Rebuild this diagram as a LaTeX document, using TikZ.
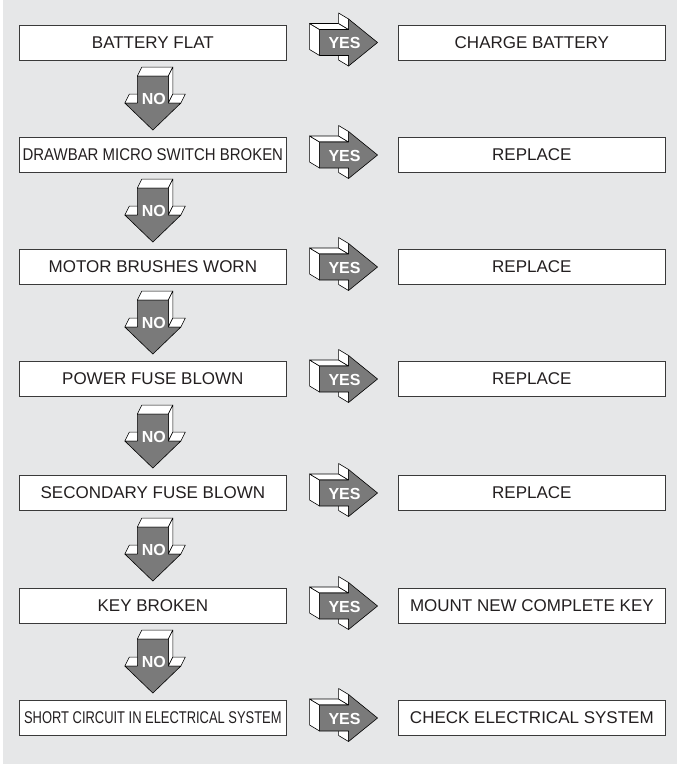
\documentclass[tikz,border=0pt]{standalone}
\usepackage{fontspec}
\setmainfont{Liberation Sans}
\usepackage{graphicx}
\definecolor{bggrey}{HTML}{E6E7E8}
\definecolor{arrowgrey}{HTML}{7A7A7A}
\definecolor{boxline}{HTML}{3A3A3A}
\definecolor{txt}{HTML}{231F20}
\tikzset{
  qbox/.style={draw=boxline, line width=0.9pt, fill=white, minimum width=267.7pt, minimum height=35pt, inner sep=0pt, text=txt, font=\fontsize{17}{19}\selectfont},
  sideface/.style={fill=white, draw=black, line width=0.6pt, line join=round},
  frontface/.style={fill=arrowgrey, draw=black, line width=0.6pt, line join=round},
  arrlabel/.style={text=white, font=\fontsize{16}{18}\selectfont\bfseries, inner sep=0pt}
}
\newcommand{\yesarrow}[1]{%
  \begin{scope}[shift={(#1)}]
    \filldraw[sideface] (-58,-13) -- (-58,13) -- (-68,7) -- (-68,-19) -- cycle;
    \filldraw[sideface] (-58,-13) -- (-29,-13) -- (-39,-19) -- (-68,-19) -- cycle;
    \filldraw[sideface] (-29,-13) -- (-29,-23.5) -- (-39,-29.5) -- (-39,-19) -- cycle;
    \filldraw[sideface] (-29,13) -- (-29,23.5) -- (-39,17.5) -- (-39,7) -- cycle;
    \filldraw[frontface] (-58,-13) -- (-29,-13) -- (-29,-23.5) -- (0,0) -- (-29,23.5) -- (-29,13) -- (-58,13) -- cycle;
    \node[arrlabel] at (-33,0.5) {YES};
  \end{scope}}
\newcommand{\noarrow}[1]{%
  \begin{scope}[shift={(#1)}]
    \filldraw[sideface] (-15.5,-54) -- (15.5,-54) -- (20,-63) -- (-11,-63) -- cycle;
    \filldraw[sideface] (15.5,-54) -- (15.5,-27) -- (20,-36) -- (20,-63) -- cycle;
    \filldraw[sideface] (-28,-27) -- (-15.5,-27) -- (-11,-36) -- (-23.5,-36) -- cycle;
    \filldraw[sideface] (15.5,-27) -- (28,-27) -- (32.5,-36) -- (20,-36) -- cycle;
    \filldraw[frontface] (-15.5,-54) -- (15.5,-54) -- (15.5,-27) -- (28,-27) -- (0,0) -- (-28,-27) -- (-15.5,-27) -- cycle;
    \node[arrlabel] at (1,-31) {NO};
  \end{scope}}
\begin{document}
\begin{tikzpicture}[x=1pt,y=-1pt]
\useasboundingbox (0,0) rectangle (677,764);
\fill[white] (0,0) rectangle (677,764);
\fill[bggrey] (3,0) rectangle (677,764);
% left column
\node[qbox] (L1) at (152.85,42.5) {BATTERY FLAT};
\node[qbox] (L2) at (152.85,155) {\scalebox{0.88}[1]{DRAWBAR MICRO SWITCH BROKEN}};
\node[qbox] (L3) at (152.85,267) {MOTOR BRUSHES WORN};
\node[qbox] (L4) at (152.85,379) {POWER FUSE BLOWN};
\node[qbox] (L5) at (152.85,493) {SECONDARY FUSE BLOWN};
\node[qbox] (L6) at (152.85,606) {KEY BROKEN};
\node[qbox] (L7) at (152.85,718) {\scalebox{0.76}[1]{SHORT CIRCUIT IN ELECTRICAL SYSTEM}};
% right column
\node[qbox] (R1) at (531.85,42.5) {CHARGE BATTERY};
\node[qbox] (R2) at (531.85,155) {REPLACE};
\node[qbox] (R3) at (531.85,267) {REPLACE};
\node[qbox] (R4) at (531.85,379) {REPLACE};
\node[qbox] (R5) at (531.85,493) {REPLACE};
\node[qbox] (R6) at (531.85,606) {MOUNT NEW COMPLETE KEY};
\node[qbox] (R7) at (531.85,718) {CHECK ELECTRICAL SYSTEM};
% YES arrows
\foreach \i in {1,...,7}{
  \path (R\i.west) ++(-20,0) coordinate (Y\i);
  \yesarrow{Y\i}
}
% NO arrows
\foreach \i [evaluate=\i as \j using int(\i+1)] in {1,...,6}{
  \path (L\j.north) ++(0,-7) coordinate (N\i);
  \noarrow{N\i}
}
\end{tikzpicture}
\end{document}
